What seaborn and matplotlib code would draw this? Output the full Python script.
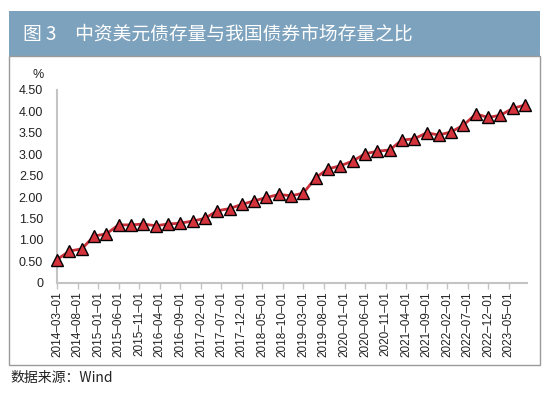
import matplotlib
matplotlib.use("Agg")
import matplotlib.pyplot as plt
from matplotlib.patches import Rectangle
import seaborn as sns
import pandas as pd

dates = ["2014-03-01", "2014-06-01", "2014-09-01", "2014-12-01",
         "2015-03-01", "2015-06-01", "2015-09-01", "2015-12-01",
         "2016-03-01", "2016-06-01", "2016-09-01", "2016-12-01",
         "2017-03-01", "2017-06-01", "2017-09-01", "2017-12-01",
         "2018-03-01", "2018-06-01", "2018-09-01", "2018-12-01",
         "2019-03-01", "2019-06-01", "2019-09-01", "2019-12-01",
         "2020-03-01", "2020-06-01", "2020-09-01", "2020-12-01",
         "2021-03-01", "2021-06-01", "2021-09-01", "2021-12-01",
         "2022-03-01", "2022-06-01", "2022-09-01", "2022-12-01",
         "2023-03-01", "2023-06-01", "2023-09-01"]
ratio = [0.54, 0.74, 0.79, 1.09, 1.14, 1.35, 1.35, 1.37,
         1.33, 1.37, 1.39, 1.44, 1.50, 1.68, 1.73, 1.83,
         1.91, 1.99, 2.06, 2.03, 2.09, 2.45, 2.66, 2.73,
         2.84, 3.01, 3.07, 3.10, 3.33, 3.36, 3.50, 3.45,
         3.52, 3.68, 3.94, 3.86, 3.91, 4.07, 4.15]
x_ticks = ["2014-03-01", "2014-08-01", "2015-01-01", "2015-06-01", "2015-11-01",
           "2016-04-01", "2016-09-01", "2017-02-01", "2017-07-01", "2017-12-01",
           "2018-05-01", "2018-10-01", "2019-03-01", "2019-08-01", "2020-01-01",
           "2020-06-01", "2020-11-01", "2021-04-01", "2021-09-01", "2022-02-01",
           "2022-07-01", "2022-12-01", "2023-05-01"]
y_ticks = [0, 0.5, 1.0, 1.5, 2.0, 2.5, 3.0, 3.5, 4.0, 4.5]
y_tick_labels = ["0", "0.50", "1.00", "1.50", "2.00", "2.50", "3.00", "3.50", "4.00", "4.50"]
title = "图 3　中资美元债存量与我国债券市场存量之比"
source = "数据来源：Wind"

sns.set_theme(style="white")
plt.rcParams['font.family'] = ['Liberation Sans', 'Noto Sans CJK SC', 'DejaVu Sans']

df = pd.DataFrame({"date": pd.to_datetime(dates), "ratio": ratio})

fig = plt.figure(figsize=(5.5, 3.99), dpi=100)
W, H = 550, 399
ax = fig.add_axes([57 / W, 1 - 282.7 / H, (527 - 57) / W, (282.7 - 90) / H])

sns.lineplot(data=df, x="date", y="ratio", ax=ax, color="#C9303A", linewidth=2,
             marker="^", markersize=8, markerfacecolor="#D4333C",
             markeredgecolor="black", markeredgewidth=1)
for ln in ax.lines:
    ln.set_clip_on(False)
    ln.set_zorder(5)

ax.set_xlim(pd.Timestamp("2014-03-01"), pd.Timestamp("2023-09-15"))
ax.set_ylim(0, 4.5)
ax.set_yticks(y_ticks)
ax.set_yticklabels(y_tick_labels)
xt = pd.to_datetime(x_ticks)
ax.set_xticks(xt)
ax.set_xticklabels([t.replace("-", "–") for t in x_ticks], rotation=90)
ax.set_xlabel("")
ax.set_ylabel("")
for s in ["top", "right"]:
    ax.spines[s].set_visible(False)
for s in ["left", "bottom"]:
    ax.spines[s].set_color("#C4C4C4")
    ax.spines[s].set_linewidth(1.5)
ax.tick_params(axis="x", length=4, width=1, color="#C4C4C4", pad=2,
               labelsize=8.5, labelcolor="#222222", bottom=True, direction="out")
ax.tick_params(axis="y", length=0, pad=10, labelsize=9, labelcolor="#222222")
ax.grid(False)

# title bar
fig.patches.append(Rectangle((9 / W, 1 - 56 / H), (540 - 9) / W, (56 - 10.7) / H,
                             transform=fig.transFigure, facecolor="#7DA2BE",
                             edgecolor="none", zorder=0))
fig.text(23 / W, 1 - 34 / H, title, color="white", fontsize=13.5, va="center",
         ha="left", family=['Noto Sans CJK SC', 'DejaVu Sans'])
# frame
fig.patches.append(Rectangle((9 / W, 1 - 365 / H), (540 - 9) / W, (365 - 56) / H,
                             transform=fig.transFigure, facecolor="none",
                             edgecolor="#9A9A9A", linewidth=1, zorder=0))
fig.text(38 / W, 1 - 75 / H, "%", fontsize=9, ha="center", va="center", color="#222222")
fig.text(10 / W, 1 - 378 / H, source, fontsize=10, ha="left", va="center",
         color="#222222", family=['Noto Sans CJK SC', 'DejaVu Sans'])

fig.savefig("out.png", dpi=100)
